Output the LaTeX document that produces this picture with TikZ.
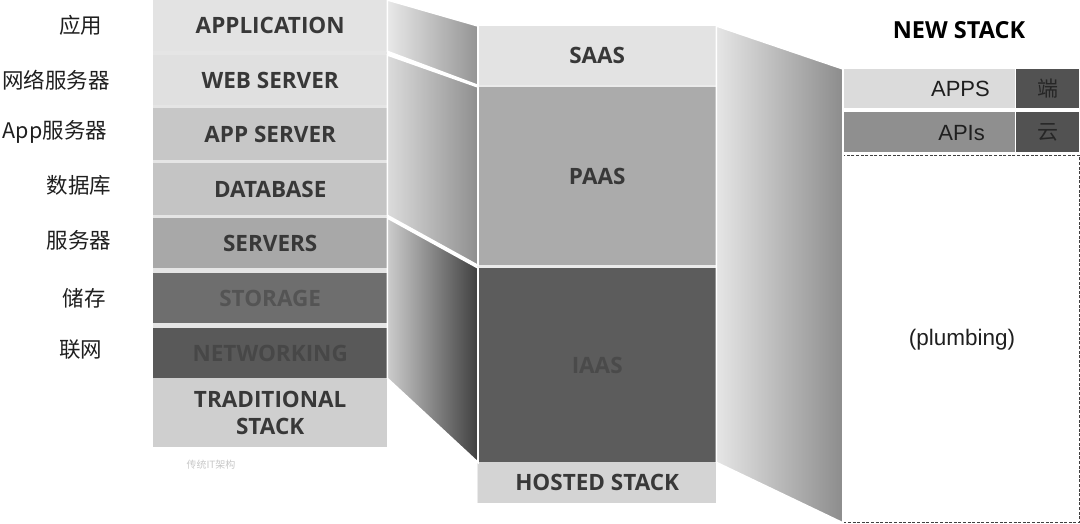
\documentclass[tikz,border=0pt]{standalone}
\usepackage{fontspec}
\setmainfont{Open Sans}
\newfontfamily\cjk{Noto Sans CJK SC}
\newfontfamily\arial{Liberation Sans}
\begin{document}
\begin{tikzpicture}[x=1pt,y=-1pt,
  layer/.style={rectangle, inner sep=0pt, anchor=north west, font=\bfseries\fontsize{22.5}{27}\selectfont, text=black!78},
  cn/.style={font=\cjk\fontsize{21.5}{24}\selectfont, text=black!88},
  ns/.style={rectangle, inner sep=0pt, anchor=north west, font=\arial\fontsize{22}{24}\selectfont, text=black!88},
  panel/.style={draw=white, line width=1.6pt, line join=miter}
]
\useasboundingbox (0,0) rectangle (1080,524);
% backdrop of the traditional stack
\fill[black!10] (153,0) rectangle (387,447);
% traditional stack
\node[layer, fill=black!11, minimum width=234pt, minimum height=51pt] (app) at (153,0) {APPLICATION};
\node[layer, fill=black!12, minimum width=234pt, minimum height=50pt] (web) at (153,55) {WEB SERVER};
\node[layer, fill=black!22, minimum width=234pt, minimum height=52pt] (aps) at (153,108) {APP SERVER};
\node[layer, fill=black!23, minimum width=234pt, minimum height=52pt] (db) at (153,163) {DATABASE};
\node[layer, fill=black!34, minimum width=234pt, minimum height=50pt] (srv) at (153,218) {SERVERS};
\node[layer, fill=black!57, text=black!67, minimum width=234pt, minimum height=50pt] (sto) at (153,273) {STORAGE};
\node[layer, fill=black!65, text=black!72, minimum width=234pt, minimum height=50pt] (net) at (153,328) {NETWORKING};
\node[layer, fill=black!19, align=center, minimum width=234pt, minimum height=69pt] (trad) at (153,378) {TRADITIONAL\\STACK};
\node[font=\cjk\fontsize{10}{12}\selectfont, text=black!22] (wm) at (211,465) {传统IT架构};
% Chinese labels
\node[cn] (l1) at (81,25) {应用};
\node[cn] (l2) at (56,80) {网络服务器};
\node[cn] (l3) at (55,132) {App服务器};
\node[cn] (l4) at (79,185) {数据库};
\node[cn] (l5) at (79,240) {服务器};
\node[cn] (l6) at (84,298) {储存};
\node[cn] (l7) at (81,350) {联网};
% hosted stack
\fill[black!8] (477,26) rectangle (716,503);
\node[layer, fill=black!11, minimum width=238pt, minimum height=59pt] (saas) at (478,26) {SAAS};
\node[layer, fill=black!33, minimum width=238pt, minimum height=178pt] (paas) at (478,87) {PAAS};
\node[layer, fill=black!64, text=black!71, minimum width=238pt, minimum height=194pt] (iaas) at (478,268) {IAAS};
\node[layer, fill=black!17, minimum width=238pt, minimum height=41pt] (host) at (478,462) {HOSTED STACK};
% folding panels
\shade[panel, left color=black!9, right color=black!42] (app.north east) -- (saas.north west) -- (saas.south west) -- (app.south east) -- cycle;
\shade[panel, left color=black!14, right color=black!44] (web.north east) -- (paas.north west) -- (paas.south west) -- (db.south east) -- cycle;
\shade[panel, left color=black!20, right color=black!75] (srv.north east) -- (iaas.north west) -- (iaas.south west) -- (net.south east) -- cycle;
% new stack
\node[font=\bfseries\fontsize{23.5}{26}\selectfont, text=black] (newt) at (959,30) {NEW STACK};
\node[ns, fill=black!14, minimum width=172pt, minimum height=39pt] (apps) at (843,69) {};
\node[anchor=east, inner sep=0pt, font=\arial\fontsize{22}{24}\selectfont, text=black!88] (appst) at (990,89) {APPS};
\node[ns, fill=black!68, minimum width=63pt, minimum height=39pt, font=\cjk\fontsize{21}{24}\selectfont, text=black!85] (duan) at (1016,69) {端};
\node[ns, fill=black!44, minimum width=172pt, minimum height=40pt] (apis) at (843,112) {};
\node[anchor=east, inner sep=0pt, font=\arial\fontsize{22}{24}\selectfont, text=black!88] (apist) at (985,133) {APIs};
\node[ns, fill=black!68, minimum width=63pt, minimum height=40pt, font=\cjk\fontsize{21}{24}\selectfont, text=black!85] (yun) at (1016,112) {云};
\node[ns, draw=black!75, dash pattern=on 3pt off 1.6pt, line width=0.9pt, minimum width=236pt, minimum height=367pt] (plumb) at (843,155) {};
\node[font=\arial\fontsize{22.5}{24}\selectfont, text=black!88] (plumbt) at (962,340) {(plumbing)};
% right panel
\shade[panel, left color=black!10, right color=black!45] (saas.north east) -- (apps.north west) -- (plumb.south west) -- (iaas.south east) -- cycle;
\end{tikzpicture}
\end{document}
